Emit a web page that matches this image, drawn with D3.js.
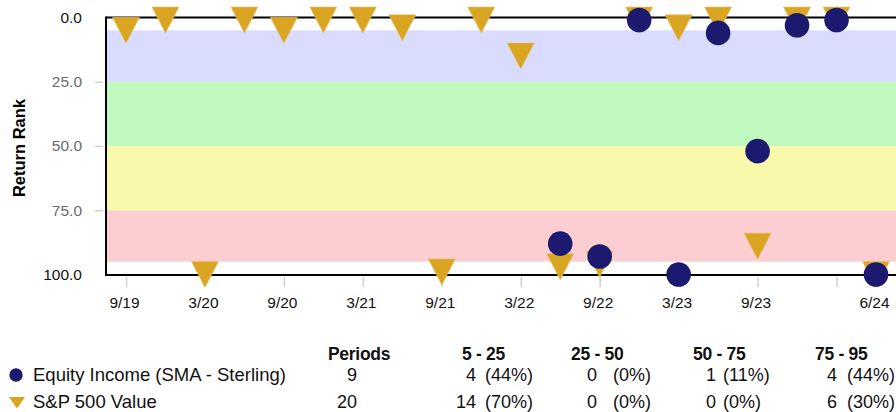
<!DOCTYPE html>
<html>
<head>
<meta charset="utf-8">
<script src="https://cdn.jsdelivr.net/npm/d3@7"></script>
<style>
  html, body { margin: 0; padding: 0; background: #fff; }
  svg { display: block; font-family: "Liberation Sans", Arial, Helvetica, sans-serif; }
</style>
</head>
<body>
<svg id="chart" width="896" height="412"></svg>
<script>
// ---- data ----
const quarters = ["9/19","12/19","3/20","6/20","9/20","12/20","3/21","6/21","9/21","12/21",
                  "3/22","6/22","9/22","12/22","3/23","6/23","9/23","12/23","3/24","6/24"];
const tickQuarters = ["9/19","3/20","9/20","3/21","9/21","3/22","9/22","3/23","9/23","3/24","6/24"];
const tickLabels   = ["9/19","3/20","9/20","3/21","9/21","3/22","9/22","3/23","9/23","","6/24"];
const yTicks = [0, 25, 50, 75, 100];

const seriesNames = ["Equity Income (SMA - Sterling)", "S&P 500 Value"];
// Equity Income: only the last 9 quarters
const equityQuarters = ["6/22","9/22","12/22","3/23","6/23","9/23","12/23","3/24","6/24"];
const equityValues   = [88, 93, 1, 100, 6, 52, 3, 1, 100];
const spValues       = [5, 1, 100, 1, 5, 1, 1, 4, 99, 1, 15, 97, 96, 1, 4, 1, 89, 1, 1, 100];

const bandRanges = [[5, 25], [25, 50], [50, 75], [75, 95]];
const bandLabels = ["5 - 25", "25 - 50", "50 - 75", "75 - 95"];
const periods = [9, 20];
const counts = [[4, 0, 1, 4], [14, 0, 0, 6]];
const pcts   = [[44, 0, 11, 44], [70, 0, 0, 30]];

// ---- styles ----
const bandColors = ["#D9DCFE", "#C0FABE", "#F8F9AA", "#FCCED2"];
const circleColor = "#1B1A6F";
const triColor = "#DAA520";

const svg = d3.select("#chart");
const plotL = 106, plotR = 930, plotT = 17.5, plotB = 274.5;

const x = d3.scalePoint().domain(quarters).range([126, 876]);
const y = d3.scaleLinear().domain([0, 100]).range([plotT, plotB]);

// bands
svg.append("g").selectAll("rect").data(bandRanges).join("rect")
  .attr("x", plotL).attr("width", plotR - plotL)
  .attr("y", d => y(d[0])).attr("height", d => y(d[1]) - y(d[0]))
  .attr("fill", (d, i) => bandColors[i]);

// frame lines
svg.append("line").attr("x1", plotL).attr("x2", plotR).attr("y1", y(0)).attr("y2", y(0))
  .attr("stroke", "#000").attr("stroke-width", 2);
svg.append("line").attr("x1", plotL).attr("x2", plotR).attr("y1", y(100) + 0.5).attr("y2", y(100) + 0.5)
  .attr("stroke", "#000").attr("stroke-width", 2);
svg.append("line").attr("x1", plotL).attr("x2", plotL).attr("y1", y(0) - 1).attr("y2", y(100) + 1.5)
  .attr("stroke", "#000").attr("stroke-width", 2);

// y axis
const yAxis = svg.append("g").attr("transform", "translate(103,0)")
  .call(d3.axisLeft(y).tickValues(yTicks).tickFormat(d3.format(".1f")).tickSize(8).tickPadding(13));
yAxis.select(".domain").remove();
yAxis.selectAll(".tick line").attr("stroke", "#d0d0d0").attr("stroke-width", 1.5)
  .attr("opacity", d => (d === 0 || d === 100) ? 0 : 1);
yAxis.selectAll(".tick text").attr("font-size", 15.5)
  .attr("font-family", "Liberation Sans, Arial, sans-serif")
  .attr("fill", d => (d === 0 || d === 100) ? "#111" : "#6b6b6b");

// x axis
const xAxis = svg.append("g").attr("transform", "translate(0,277)")
  .call(d3.axisBottom(x).tickValues(tickQuarters)
    .tickFormat(d => tickLabels[tickQuarters.indexOf(d)]).tickSize(10).tickPadding(10));
xAxis.select(".domain").remove();
xAxis.selectAll(".tick line").attr("stroke", "#d0d0d0").attr("stroke-width", 1.5);
xAxis.selectAll(".tick text").attr("font-size", 15.5).attr("dx", -2)
  .attr("font-family", "Liberation Sans, Arial, sans-serif").attr("fill", "#111");

// y title
svg.append("text").attr("transform", "translate(25,148) rotate(-90)")
  .attr("text-anchor", "middle").attr("font-weight", "bold").attr("font-size", 16.5)
  .attr("fill", "#000").text("Return Rank");

// markers
const triW = 27, triH = 26;
const tri = `M${-triW/2},${-triH/2} L${triW/2},${-triH/2} L0,${triH/2} Z`;
svg.append("g").selectAll("path").data(spValues).join("path")
  .attr("d", tri)
  .attr("transform", (d, i) => `translate(${x(quarters[i])},${y(d)})`)
  .attr("fill", triColor).attr("stroke", "#E8C068").attr("stroke-width", 0.6);

svg.append("g").selectAll("circle").data(equityValues).join("circle")
  .attr("cx", (d, i) => x(equityQuarters[i])).attr("cy", d => y(d)).attr("r", 12.3)
  .attr("fill", circleColor);

// ---- legend table ----
const tbl = svg.append("g").attr("font-size", 18).attr("fill", "#111");
tbl.append("text").attr("x", 328).attr("y", 360).attr("font-weight", "bold")
  .attr("font-size", 17.5).attr("letter-spacing", -0.3).text("Periods");
const headX = [462, 571, 693, 815];
const countX = [476, 597, 716, 837];
const pctX = [485, 613, 723, 847];
tbl.selectAll("text.head").data(bandLabels).join("text").attr("class", "head")
  .attr("x", (d, i) => headX[i]).attr("y", 360).attr("font-weight", "bold")
  .attr("font-size", 17.5).attr("letter-spacing", -0.3).text(d => d);

const rowY = [381, 408];
seriesNames.forEach((name, r) => {
  tbl.append("text").attr("x", 33).attr("y", rowY[r]).attr("font-size", 18.5).text(name);
  tbl.append("text").attr("x", 357).attr("y", rowY[r]).attr("text-anchor", "end").text(periods[r]);
  counts[r].forEach((c, k) => {
    tbl.append("text").attr("x", countX[k]).attr("y", rowY[r]).attr("text-anchor", "end").text(c);
    tbl.append("text").attr("x", pctX[k]).attr("y", rowY[r]).text(`(${pcts[r][k]}%)`);
  });
});
// legend symbols
svg.append("circle").attr("cx", 16).attr("cy", 375).attr("r", 6.7).attr("fill", circleColor);
svg.append("path").attr("d", "M-8,-5.5 L8,-5.5 L0,6 Z")
  .attr("transform", "translate(17,402.5)").attr("fill", triColor);
</script>
</body>
</html>
